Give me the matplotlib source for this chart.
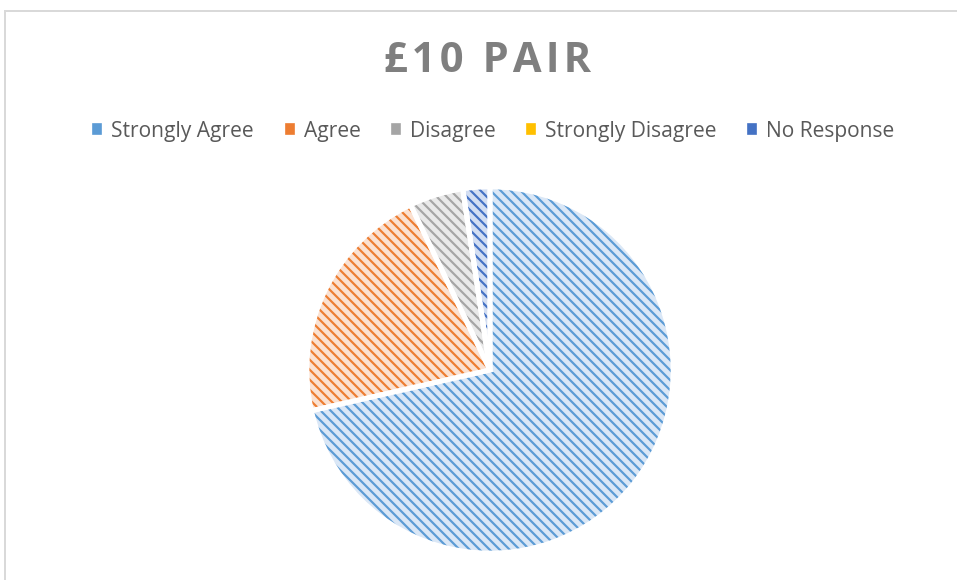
"""
pie chart of survey answers for the £10 pair, hatched wedges in office style
"""

import matplotlib as mpl
mpl.use( "Agg" )
import matplotlib.pyplot as plt
from matplotlib.patches import Rectangle, Patch

title = "£10 PAIR"
categories = [ "Strongly Agree", "Agree", "Disagree", "Strongly Disagree", "No Response" ]
counts = [ 30, 9, 2, 0, 1 ]

stripe_colors = [ "#5b9bd5", "#ed7d31", "#a5a5a5", "#ffc000", "#4472c4" ]
fill_colors = [ "#dae7f6", "#fbe1d1", "#e9e9e9", "#fff0c4", "#d3def2" ]

W, H, DPI = 957, 580, 120
plt.rcParams[ "hatch.linewidth" ] = 1.3
plt.rcParams[ "font.family" ] = [ "Open Sans", "DejaVu Sans" ]

fig = plt.figure( figsize=( W / DPI, H / DPI ), dpi=DPI )

# light grey chart area border (runs off the right and bottom edges)
fig.patches.append( Rectangle( ( 4.5 / W, -0.05 ), 1.1, 1 - 10.5 / H + 0.05,
  transform=fig.transFigure, fill=False, edgecolor="#d9d9d9", linewidth=1.2 ) )

# pie centre (490,370) px, radius 185 px
cx, cy, r = 490, 370, 185
ax = fig.add_axes( [ ( cx - r ) / W, ( H - cy - r ) / H, 2 * r / W, 2 * r / H ] )
ax.set_aspect( "equal" )

# hatched wedges, hatch takes the edge colour
wedges, _ = ax.pie( counts, colors=fill_colors, startangle=90, counterclock=False,
  radius=1, wedgeprops=dict( linewidth=0 ) )
for w, c in zip( wedges, stripe_colors ):
  w.set_edgecolor( c )
  w.set_hatch( "\\\\\\\\" )

# white separators on top
ax.pie( counts, colors=[ "none" ] * len( counts ), startangle=90, counterclock=False,
  radius=1, wedgeprops=dict( linewidth=3, edgecolor="white" ) )
ax.set_xlim( -1.01, 1.01 )
ax.set_ylim( -1.01, 1.01 )
ax.axis( "off" )

# spaced-out title letters
spaced = "\u200a".join( title )
fig.text( 488 / W, 1 - 62 / H, spaced, ha="center", va="center", fontsize=25,
  fontweight="bold", color="#7f7f7f" )

# legend
handles = [ Patch( facecolor=c, edgecolor=c ) for c in stripe_colors ]
fig.legend( handles, categories, loc="center", bbox_to_anchor=( 494 / W, 1 - 131 / H ),
  ncol=5, frameon=False, fontsize=12.6, labelcolor="#595959", handlelength=0.38,
  handleheight=0.38, handletextpad=0.48, columnspacing=1.5 )

plt.savefig( "out.png", dpi=DPI )
plt.close()
